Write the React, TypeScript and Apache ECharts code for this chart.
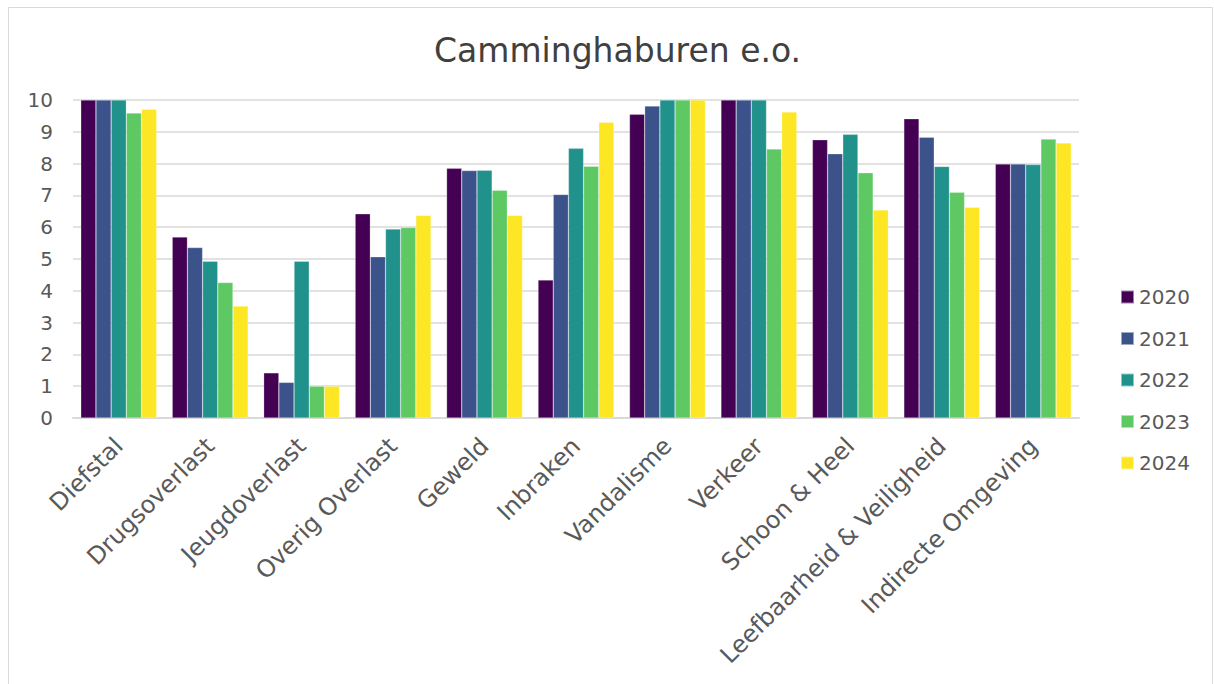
import React, { useEffect, useRef } from "react";
import * as echarts from "echarts";

const categories = [
  "Diefstal",
  "Drugsoverlast",
  "Jeugdoverlast",
  "Overig Overlast",
  "Geweld",
  "Inbraken",
  "Vandalisme",
  "Verkeer",
  "Schoon & Heel",
  "Leefbaarheid & Veiligheid",
  "Indirecte Omgeving",
];
const years = ["2020", "2021", "2022", "2023", "2024"];
const v2020 = [10, 5.69, 1.42, 6.42, 7.85, 4.34, 9.55, 10, 8.75, 9.41, 7.99];
const v2021 = [10, 5.36, 1.12, 5.07, 7.78, 7.03, 9.81, 10, 8.31, 8.83, 7.99];
const v2022 = [10, 4.93, 4.93, 5.94, 7.79, 8.48, 10, 10, 8.92, 7.91, 7.97];
const v2023 = [9.59, 4.26, 1.0, 5.99, 7.16, 7.92, 10, 8.46, 7.71, 7.1, 8.77];
const v2024 = [9.71, 3.52, 1.0, 6.37, 6.37, 9.3, 10, 9.62, 6.54, 6.63, 8.65];
const seriesValues = [v2020, v2021, v2022, v2023, v2024];
const colors = ["#440154", "#3b528b", "#21918c", "#5ec962", "#fde725"];

export default function App() {
  const ref = useRef<HTMLDivElement>(null);
  useEffect(() => {
    document.body.style.margin = "0";
    const chart = echarts.init(ref.current!, undefined, { renderer: "svg" });
    const font = "'DejaVu Sans', Verdana, sans-serif";
    chart.setOption({
      animation: false,
      backgroundColor: "#ffffff",
      textStyle: { fontFamily: font },
      title: {
        text: "Camminghaburen e.o.",
        left: 429,
        top: 29,
        textStyle: { fontFamily: font, fontSize: 33, fontWeight: "normal", color: "#404040" },
      },
      legend: {
        orient: "vertical",
        left: 1115,
        top: 282,
        itemWidth: 13,
        itemHeight: 13,
        itemGap: 21.5,
        icon: "rect",
        textStyle: { fontFamily: font, fontSize: 20, color: "#595959", padding: [0, 0, 0, 0] },
        data: years,
      },
      graphic: [
        {
          type: "rect",
          shape: { x: 8.5, y: 7.5, width: 1204, height: 690 },
          style: { fill: "none", stroke: "#d9d9d9", lineWidth: 1 },
          silent: true,
        },
      ],
      grid: { left: 73, right: 135, top: 100, bottom: 266, containLabel: false },
      xAxis: {
        type: "category",
        data: categories,
        axisLine: { lineStyle: { color: "#d9d9d9", width: 2 } },
        axisTick: { show: false },
        axisLabel: {
          rotate: 45,
          interval: 0,
          margin: 24,
          fontFamily: font,
          fontSize: 24,
          color: "#595959",
        },
      },
      yAxis: {
        type: "value",
        min: 0,
        max: 10,
        interval: 1,
        axisLine: { show: false },
        axisTick: { show: false },
        splitLine: { lineStyle: { color: "#d9d9d9", width: 1.5 } },
        axisLabel: { fontFamily: font, fontSize: 20, color: "#595959", margin: 20 },
      },
      series: years.map((y, i) => ({
        name: y,
        type: "bar",
        data: seriesValues[i],
        itemStyle: { color: colors[i], borderColor: "rgba(255,255,255,0.5)", borderWidth: 0.5 },
        barGap: "0%",
        barCategoryGap: "17%",
      })),
    });
    return () => chart.dispose();
  }, []);
  return <div ref={ref} style={{ width: 1214, height: 684 }} />;
}
